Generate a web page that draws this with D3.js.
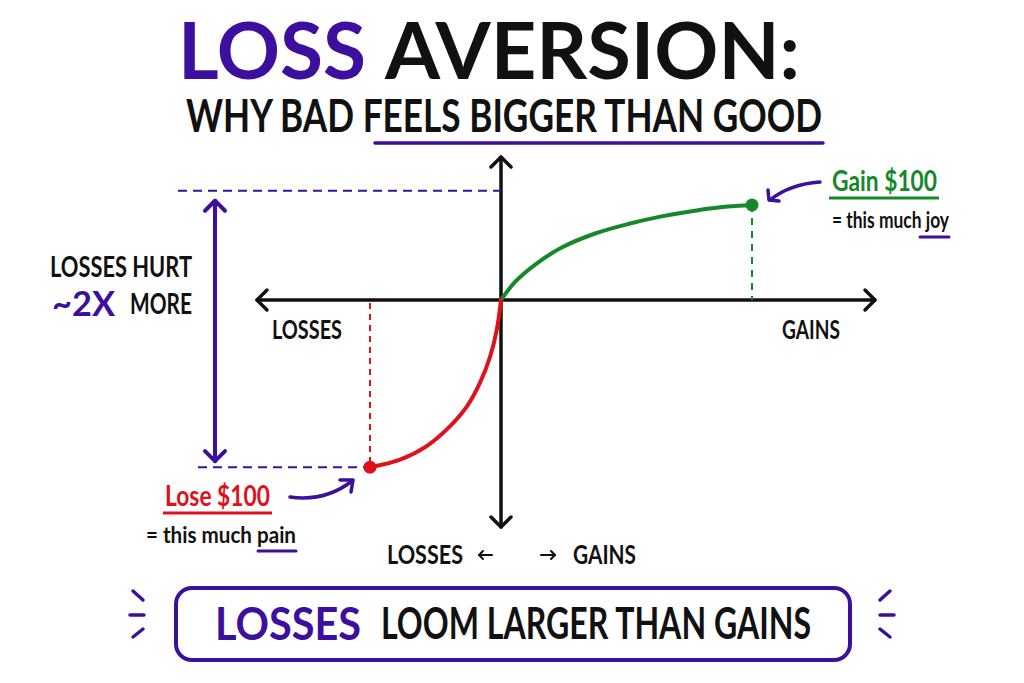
<!DOCTYPE html>
<html>
<head>
<meta charset="utf-8">
<script src="https://cdn.jsdelivr.net/npm/d3@7"></script>
<style>
  html, body { margin: 0; padding: 0; background: #fff; }
  svg { display: block; }
  text { font-family: "Lato", "DejaVu Sans", sans-serif; font-weight: 700; }
</style>
</head>
<body>
<svg class="chartSVG" width="1024" height="683"></svg>
<script>
// value function (outcome in $, felt value)
const gainX = [0, 5.6, 13.5, 24, 37.5, 50.6, 64, 77.3, 90.4, 100];
const gainV = [0, 19, 37, 55, 70, 80, 88, 94, 98.3, 100];
const lossX = [0, -3.3, -8.4, -16, -26, -39, -57, -77, -100];
const lossV = [0, -32, -60, -87, -112, -133, -154, -168, -176];
const refTop = 115;   // level of the top dashed guide
const refBottom = -176;

const purple = "#3d0f9e", green = "#15892a", red = "#e0111a";

const svg = d3.select(".chartSVG");

// piecewise scales: the loss side is drawn narrower than the gain side
const x = d3.scaleLinear().domain([-100, 0, 100]).range([370, 501, 752]);
const y = d3.scaleLinear().domain([0, 100]).range([300, 205]);

function txt(s, px, py, size, fill, len) {
  const t = svg.append("text").attr("x", px).attr("y", py)
    .attr("font-size", size).attr("fill", fill).text(s);
  if (len) t.attr("textLength", len).attr("lengthAdjust", "spacingAndGlyphs");
  return t;
}

// ---------- titles
txt("LOSS", 178, 79, 78, purple, 188).attr("font-weight", 800);
txt("AVERSION:", 385, 79, 78, "#111", 415).attr("font-weight", 800);
txt("WHY BAD FEELS BIGGER THAN GOOD", 186, 132, 46, "#111", 636);
svg.append("line").attr("x1", 375).attr("x2", 823).attr("y1", 143).attr("y2", 143)
  .attr("stroke", purple).attr("stroke-width", 3.5).attr("stroke-linecap", "round");

// ---------- axes
const axisG = svg.append("g").attr("stroke", "#111").attr("stroke-width", 3.5)
  .attr("fill", "none").attr("stroke-linecap", "round").attr("stroke-linejoin", "round");
axisG.append("line").attr("x1", 257).attr("x2", 875).attr("y1", y(0)).attr("y2", y(0));
axisG.append("line").attr("x1", x(0)).attr("x2", x(0)).attr("y1", 157).attr("y2", 527);
function head(px, py, dir, g, sz) {
  const a = { r: [[-sz, -sz], [-sz, sz]], l: [[sz, -sz], [sz, sz]],
              u: [[-sz, sz], [sz, sz]], d: [[-sz, -sz], [sz, -sz]] }[dir];
  g.append("path").attr("d", `M${px + a[0][0]},${py + a[0][1]}L${px},${py}L${px + a[1][0]},${py + a[1][1]}`);
}
head(875, y(0), "r", axisG, 10);
head(257, y(0), "l", axisG, 10);
head(x(0), 157, "u", axisG, 10);
head(x(0), 527, "d", axisG, 10);

txt("LOSSES", 272, 339, 26, "#111", 70);
txt("GAINS", 782, 339, 26, "#111", 58);

// ---------- guides
svg.append("line").attr("x1", 178).attr("x2", x(0)).attr("y1", y(refTop)).attr("y2", y(refTop))
  .attr("stroke", purple).attr("stroke-width", 2).attr("stroke-dasharray", "9,6");
svg.append("line").attr("x1", 198).attr("x2", x(-100)).attr("y1", y(refBottom)).attr("y2", y(refBottom))
  .attr("stroke", purple).attr("stroke-width", 2).attr("stroke-dasharray", "9,6");
svg.append("line").attr("x1", x(100)).attr("x2", x(100)).attr("y1", y(100)).attr("y2", y(0))
  .attr("stroke", green).attr("stroke-width", 2).attr("stroke-dasharray", "7,6");
svg.append("line").attr("x1", x(-100)).attr("x2", x(-100)).attr("y1", y(0) + 3).attr("y2", y(refBottom))
  .attr("stroke", red).attr("stroke-width", 2).attr("stroke-dasharray", "6,5");

// double arrow "2x"
const dbl = svg.append("g").attr("stroke", purple).attr("stroke-width", 4).attr("fill", "none")
  .attr("stroke-linecap", "round").attr("stroke-linejoin", "round");
dbl.append("line").attr("x1", 215).attr("x2", 215).attr("y1", y(refTop) + 10).attr("y2", y(refBottom) - 6);
head(215, y(refTop) + 10, "u", dbl, 10);
head(215, y(refBottom) - 6, "d", dbl, 10);

txt("LOSSES HURT", 50, 277, 28, "#111", 142);
txt("~2X", 52, 316, 34, purple, 63).attr("font-weight", 800);
txt("MORE", 130, 314, 28, "#111", 62);

// ---------- value curves
const line = d3.line().x(d => x(d[0])).y(d => y(d[1])).curve(d3.curveCatmullRom.alpha(0.5));
svg.append("path").datum(d3.zip(gainX, gainV)).attr("d", line)
  .attr("fill", "none").attr("stroke", green).attr("stroke-width", 4).attr("stroke-linecap", "round");
svg.append("path").datum(d3.zip(lossX, lossV)).attr("d", line)
  .attr("fill", "none").attr("stroke", red).attr("stroke-width", 4).attr("stroke-linecap", "round");
svg.append("circle").attr("cx", x(100)).attr("cy", y(100)).attr("r", 6.5).attr("fill", green);
svg.append("circle").attr("cx", x(-100)).attr("cy", y(refBottom)).attr("r", 6.5).attr("fill", red);

// ---------- annotations
const ann = svg.append("g").attr("stroke", purple).attr("stroke-width", 3.5).attr("fill", "none")
  .attr("stroke-linecap", "round").attr("stroke-linejoin", "round");
ann.append("path").attr("d", "M820,182 Q790,184 770,200");
ann.append("path").attr("d", "M768,190 L769,200 L779,201");
ann.append("path").attr("d", "M290,497 Q325,502 352,481");
ann.append("path").attr("d", "M340,480 L353,480 L351,492");

txt("Gain $100", 832, 191, 29, green, 105).attr("font-weight", 600);
svg.append("line").attr("x1", 829).attr("x2", 939).attr("y1", 198).attr("y2", 198)
  .attr("stroke", green).attr("stroke-width", 3);
txt("= this much joy", 832, 228, 23, "#111", 117).attr("font-weight", 600);
svg.append("line").attr("x1", 920).attr("x2", 949).attr("y1", 237).attr("y2", 237)
  .attr("stroke", purple).attr("stroke-width", 3).attr("stroke-linecap", "round");

txt("Lose $100", 165, 506, 29, red, 105).attr("font-weight", 600);
svg.append("line").attr("x1", 163).attr("x2", 272).attr("y1", 513).attr("y2", 513)
  .attr("stroke", red).attr("stroke-width", 3);
txt("= this much pain", 146, 543, 23, "#111", 150).attr("font-weight", 600);
svg.append("line").attr("x1", 258).attr("x2", 296).attr("y1", 551).attr("y2", 551)
  .attr("stroke", purple).attr("stroke-width", 3).attr("stroke-linecap", "round");

txt("LOSSES", 387, 564, 26, "#111", 76);
txt("GAINS", 573, 564, 26, "#111", 63);
const sm = svg.append("g").attr("stroke", "#111").attr("stroke-width", 2).attr("fill", "none")
  .attr("stroke-linecap", "round").attr("stroke-linejoin", "round");
sm.append("line").attr("x1", 479).attr("x2", 492).attr("y1", 555).attr("y2", 555);
head(479, 555, "l", sm, 4);
sm.append("line").attr("x1", 541).attr("x2", 555).attr("y1", 555).attr("y2", 555);
head(555, 555, "r", sm, 4);

// ---------- bottom banner
svg.append("rect").attr("x", 176).attr("y", 588).attr("width", 674).attr("height", 72).attr("rx", 16)
  .attr("fill", "none").attr("stroke", purple).attr("stroke-width", 4);
txt("LOSSES", 215, 640, 46, purple, 146).attr("font-weight", 800);
txt("LOOM LARGER THAN GAINS", 381, 639, 44, "#111", 430);
const spark = svg.append("g").attr("stroke", purple).attr("stroke-width", 3.5).attr("stroke-linecap", "round");
[[133, 591, 143, 600], [130, 615, 144, 615], [133, 637, 143, 629],
 [880, 600, 890, 591], [880, 615, 894, 615], [880, 629, 890, 637]].forEach(s => {
  spark.append("line").attr("x1", s[0]).attr("y1", s[1]).attr("x2", s[2]).attr("y2", s[3]);
});
</script>
</body>
</html>
